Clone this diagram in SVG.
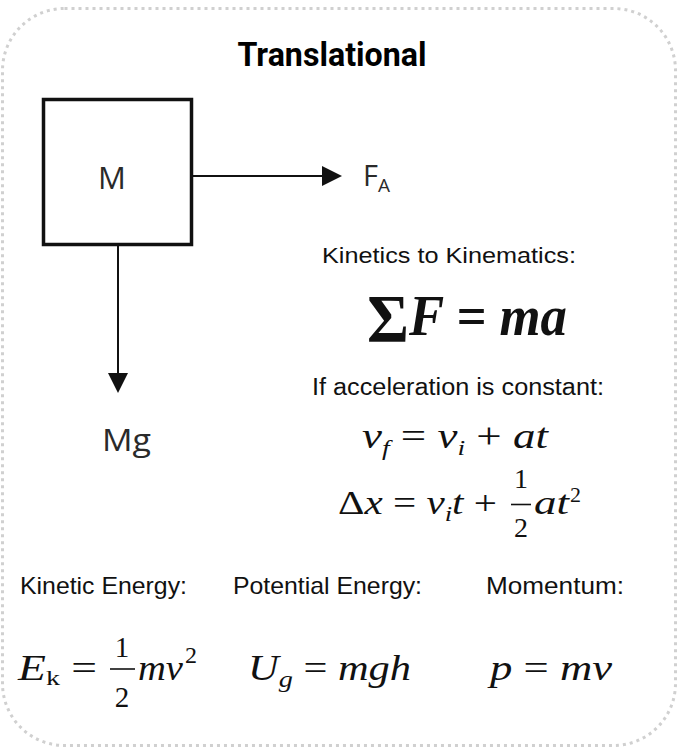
<svg xmlns="http://www.w3.org/2000/svg" width="678" height="751" viewBox="0 0 678 751">
<defs>
<style>
.sans{font-family:"Liberation Sans",Arial,sans-serif;fill:#111}
.cal{font-family:"Open Sans","Liberation Sans",sans-serif;fill:#2a2a2a}
.ser{font-family:"Liberation Serif","Times New Roman",serif;fill:#111}
.it{font-style:italic}
.conn{stroke:#111;stroke-width:2;fill:none}
</style>
<marker id="ah" markerWidth="20" markerHeight="20" refX="10" refY="10" orient="auto" markerUnits="userSpaceOnUse"><path d="M0,0 L20,10 L0,20 z" fill="#111"/></marker>
</defs>
<rect x="0" y="0" width="678" height="751" fill="#fff"/>
<rect x="2.5" y="8.5" width="673" height="737" rx="62" fill="none" stroke="#d0d0d0" stroke-width="3" stroke-dasharray="3 4"/>
<text x="332" y="66" font-family="Roboto,'Liberation Sans',sans-serif" font-weight="700" font-size="33" text-anchor="middle" textLength="189" lengthAdjust="spacingAndGlyphs" fill="#000">Translational</text>
<g id="mass">
<rect x="43.5" y="99.5" width="148" height="145" fill="#fff" stroke="#111" stroke-width="3.5"/>
<text class="cal" x="112" y="189" font-size="31" text-anchor="middle">M</text>
</g>
<g id="connectors">
<line class="conn" x1="193" y1="176" x2="332" y2="176" marker-end="url(#ah)"/>
<line class="conn" x1="118" y1="246" x2="118" y2="383" marker-end="url(#ah)"/>
</g>
<g id="fa">
<text class="cal" x="363" y="186" font-size="29" fill="#444">F<tspan font-size="19" dy="6">A</tspan></text>
</g>
<g id="mg">
<text class="cal" x="102" y="451" font-size="31" textLength="49" lengthAdjust="spacingAndGlyphs">Mg</text>
</g>
<g id="kinetics">
<text class="sans" x="322" y="263" font-size="22" textLength="254" lengthAdjust="spacingAndGlyphs">Kinetics to Kinematics:</text>
<text class="ser" x="367" y="335" font-weight="700" textLength="200" lengthAdjust="spacingAndGlyphs"><tspan font-size="68" dy="6">Σ</tspan><tspan font-size="56" class="it" dy="-6">F = ma</tspan></text>
</g>
<g id="constant">
<text class="sans" x="312" y="395" font-size="23" textLength="292" lengthAdjust="spacingAndGlyphs">If acceleration is constant:</text>
<text class="ser" x="362" y="448" font-size="36" textLength="186" lengthAdjust="spacingAndGlyphs"><tspan class="it">v</tspan><tspan class="it" font-size="22" dy="7">f</tspan><tspan dy="-7"> = </tspan><tspan class="it">v</tspan><tspan class="it" font-size="22" dy="7">i</tspan><tspan dy="-7"> + </tspan><tspan class="it">at</tspan></text>
<text class="ser" x="338" y="514" font-size="34" textLength="159" lengthAdjust="spacingAndGlyphs">Δ<tspan class="it">x</tspan> = <tspan class="it">v</tspan><tspan class="it" font-size="22" dy="7">i</tspan><tspan class="it" dy="-7">t</tspan> +</text>
<text class="ser" x="521" y="488" font-size="28" text-anchor="middle">1</text>
<line x1="511" y1="504.5" x2="531" y2="504.5" stroke="#111" stroke-width="1.6"/>
<text class="ser" x="521" y="537" font-size="28" text-anchor="middle">2</text>
<text class="ser it" x="534" y="514" font-size="34" textLength="35" lengthAdjust="spacingAndGlyphs">at</text>
<text class="ser" x="570" y="502" font-size="22">2</text>
</g>
<g id="kinetic-energy">
<text class="sans" x="20" y="594" font-size="24" textLength="167" lengthAdjust="spacingAndGlyphs">Kinetic Energy:</text>
<text class="ser" x="18" y="680" font-size="36" textLength="79" lengthAdjust="spacingAndGlyphs"><tspan class="it">E</tspan><tspan font-size="22" dy="5">k</tspan><tspan dy="-5"> =</tspan></text>
<text class="ser" x="122" y="657" font-size="29" text-anchor="middle">1</text>
<line x1="110" y1="669" x2="135" y2="669" stroke="#111" stroke-width="1.6"/>
<text class="ser" x="122" y="707" font-size="29" text-anchor="middle">2</text>
<text class="ser it" x="138" y="680" font-size="36" textLength="45" lengthAdjust="spacingAndGlyphs">mv</text>
<text class="ser" x="185" y="663" font-size="24">2</text>
</g>
<g id="potential-energy">
<text class="sans" x="233" y="594" font-size="24" textLength="189" lengthAdjust="spacingAndGlyphs">Potential Energy:</text>
<text class="ser" x="248" y="680" font-size="36" textLength="163" lengthAdjust="spacingAndGlyphs"><tspan class="it">U</tspan><tspan class="it" font-size="24" dy="7">g</tspan><tspan dy="-7"> = </tspan><tspan class="it">mgh</tspan></text>
</g>
<g id="momentum">
<text class="sans" x="486" y="594" font-size="24" textLength="138" lengthAdjust="spacingAndGlyphs">Momentum:</text>
<text class="ser" x="490" y="680" font-size="36" textLength="122" lengthAdjust="spacingAndGlyphs"><tspan class="it">p</tspan> = <tspan class="it">mv</tspan></text>
</g>
</svg>
